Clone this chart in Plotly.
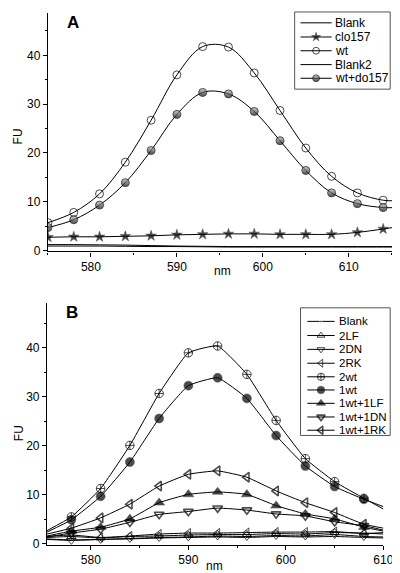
import plotly.graph_objects as go

W, H = 400, 573

# ---------------- Panel A data ----------------
a_nm = [575, 578, 581, 584, 587, 590, 593, 596, 599, 602, 605, 608, 611, 614, 615.5]
a_blank = [1.2, 1.2, 1.15, 1.1, 1.0, 0.9, 0.85, 0.8, 0.8, 0.8, 0.8, 0.8, 0.8, 0.8, 0.8]
a_clo157 = [2.7, 2.8, 2.8, 2.9, 3.0, 3.2, 3.3, 3.4, 3.4, 3.3, 3.3, 3.3, 3.7, 4.4, 4.8]
a_wt = [5.7, 7.8, 11.6, 18.1, 26.7, 36.0, 41.8, 41.7, 36.4, 28.7, 21.0, 15.2, 11.8, 10.3, 10.2]
a_blank2 = [0.9, 0.9, 0.9, 0.85, 0.8, 0.8, 0.75, 0.7, 0.7, 0.7, 0.7, 0.7, 0.7, 0.7, 0.7]
a_wt_clo = [4.7, 6.3, 9.3, 13.9, 20.5, 27.9, 32.4, 32.1, 28.5, 22.5, 16.4, 11.8, 9.6, 8.8, 8.8]
a_names = ["Blank", "clo157", "wt", "Blank2", "wt+do157"]

# ---------------- Panel B data ----------------
b_nm = [575.5, 578, 581, 584, 587, 590, 593, 596, 599, 602, 605, 608, 610]
b_blank = [1.0, 0.8, 0.9, 1.0, 1.2, 1.3, 1.4, 1.3, 1.5, 1.4, 1.5, 1.3, 1.2]
b_2lf = [1.3, 1.5, 1.2, 1.5, 1.6, 1.8, 1.9, 1.9, 2.1, 2.0, 2.3, 2.2, 2.0]
b_2dn = [0.9, 0.7, 0.9, 1.1, 1.3, 1.4, 1.6, 1.5, 1.7, 1.6, 1.9, 1.5, 1.4]
b_2rk = [1.5, 1.8, 1.3, 1.6, 2.0, 2.2, 2.2, 2.3, 2.4, 2.4, 2.5, 2.1, 2.3]
b_2wt = [2.7, 5.5, 11.3, 20.1, 30.7, 39.0, 40.4, 34.6, 25.2, 17.4, 12.7, 9.3, 7.1]
b_1wt = [2.4, 4.9, 9.7, 16.7, 25.6, 32.3, 33.9, 29.7, 22.1, 15.9, 11.7, 9.1, 7.6]
b_1wt_1lf = [1.6, 2.6, 3.4, 5.1, 8.4, 10.1, 10.6, 10.1, 7.8, 6.1, 5.1, 3.4, 2.6]
b_1wt_1dn = [1.4, 2.2, 3.0, 4.4, 6.0, 6.6, 7.3, 6.9, 6.1, 5.7, 4.5, 3.7, 2.8]
b_1wt_1rk = [2.0, 3.2, 5.3, 8.1, 11.8, 14.2, 14.9, 13.6, 10.8, 8.4, 6.4, 4.0, 3.2]
b_names = ["Blank", "2LF", "2DN", "2RK", "2wt", "1wt", "1wt+1LF", "1wt+1DN", "1wt+1RK"]

a_xticks = [580, 590, 600, 610]
a_yticks = [0, 10, 20, 30, 40]
b_xticks = [580, 590, 600, 610]
b_yticks = [0, 10, 20, 30, 40]

FONT = "Liberation Sans, Arial, sans-serif"


def px(x):
    return x / W


def py(y):
    return 1 - y / H


def sizes(n, s, ends=("last",)):
    out = [s] * n
    if "first" in ends:
        out[0] = 0
    if "last" in ends:
        out[-1] = 0
    return out


HALF = dict(symbol="circle", color="#bbbbbb", gradient=dict(type="vertical", color="black"),
            line=dict(color="black", width=1))

a_styles = [
    dict(marker=None),
    dict(marker=dict(symbol="star", color="black", line=dict(color="black", width=0.5)), size=8),
    dict(marker=dict(symbol="circle-open", color="black", line=dict(width=1)), size=8),
    dict(marker=None),
    dict(marker=HALF, size=8),
]
b_styles = [
    dict(marker=dict(symbol="circle", color="black"), size=2.5),
    dict(marker=dict(symbol="triangle-up-open", color="black", line=dict(width=1)), size=8),
    dict(marker=dict(symbol="triangle-down-open", color="black", line=dict(width=1)), size=8),
    dict(marker=dict(symbol="triangle-left-open", color="black", line=dict(width=1)), size=8),
    dict(marker=dict(symbol="circle-cross-open", color="black", line=dict(width=1)), size=8.5),
    dict(marker=dict(symbol="circle", color="black", line=dict(color="black", width=0.5)), size=9),
    dict(marker=dict(symbol="triangle-up", color="black", line=dict(color="black", width=0.5)), size=9.5),
    dict(marker=dict(symbol="triangle-down-open", color="black", line=dict(width=1.6)), size=8.5),
    dict(marker=dict(symbol="triangle-left-open", color="black", line=dict(width=1.6)), size=8.5),
]

fig = go.Figure()

a_series = [a_blank, a_clo157, a_wt, a_blank2, a_wt_clo]
for name, ys, st in zip(a_names, a_series, a_styles):
    if st["marker"] is None:
        fig.add_trace(go.Scatter(x=a_nm, y=ys, mode="lines", name=name,
                                 line=dict(color="black", width=1, shape="spline", smoothing=1),
                                 xaxis="x", yaxis="y", showlegend=False))
    else:
        m = dict(st["marker"])
        m["size"] = sizes(len(a_nm), st["size"], ends=("last",))
        fig.add_trace(go.Scatter(x=a_nm, y=ys, mode="lines+markers", name=name,
                                 line=dict(color="black", width=1, shape="spline", smoothing=1),
                                 marker=m, xaxis="x", yaxis="y", showlegend=False))

b_series = [b_blank, b_2lf, b_2dn, b_2rk, b_2wt, b_1wt, b_1wt_1lf, b_1wt_1dn, b_1wt_1rk]
for name, ys, st in zip(b_names, b_series, b_styles):
    m = dict(st["marker"])
    m["size"] = sizes(len(b_nm), st["size"], ends=("first", "last"))
    fig.add_trace(go.Scatter(x=b_nm, y=ys, mode="lines+markers", name=name,
                             line=dict(color="black", width=1, shape="spline", smoothing=0.4),
                             marker=m, xaxis="x2", yaxis="y2", showlegend=False))

# ---------------- manual legends (pixel overlay axis) ----------------
annotations = []
shapes = []


def draw_legend(names, styles, box, x0, x1, xt, ys, fs):
    shapes.append(dict(type="rect", xref="paper", yref="paper",
                       x0=px(box[0]), x1=px(box[1]), y0=py(box[3]), y1=py(box[2]),
                       line=dict(color="#555", width=1), fillcolor="rgba(0,0,0,0)", layer="above"))
    for name, st, yy in zip(names, styles, ys):
        xm = (x0 + x1) / 2
        if st["marker"] is None:
            fig.add_trace(go.Scatter(x=[x0, x1], y=[yy, yy], mode="lines",
                                     line=dict(color="black", width=1),
                                     xaxis="x3", yaxis="y3", showlegend=False, hoverinfo="skip"))
        else:
            m = dict(st["marker"])
            m["size"] = [0, st["size"] * 0.85, 0]
            fig.add_trace(go.Scatter(x=[x0, xm, x1], y=[yy, yy, yy], mode="lines+markers",
                                     line=dict(color="black", width=1), marker=m,
                                     xaxis="x3", yaxis="y3", showlegend=False, hoverinfo="skip"))
        annotations.append(dict(text=name, x=px(xt), y=py(yy), xref="paper", yref="paper",
                                xanchor="left", yanchor="middle", showarrow=False,
                                font=dict(size=fs, color="black", family=FONT)))


draw_legend(a_names, a_styles, (294, 392, 4, 82), 300, 332, 333, [15, 29.3, 43.2, 57.2, 71], 12)
draw_legend(b_names, b_styles, (300, 392, 303, 432), 307, 335, 337,
            [316.7, 331, 345, 359, 372.7, 386, 399.5, 413.3, 426.7], 11.5)

# axis titles and panel labels
for txt, x, y, ang, size, bold in [
    ("FU", 10, 130, -90, 12, False), ("nm", 220, 266, 0, 12, False),
    ("FU", 12, 430, -90, 12, False), ("nm", 212, 564, 0, 12, False),
    ("A", 67, 15, 0, 17, True), ("B", 66, 308, 0, 17, True),
]:
    annotations.append(dict(text=f"<b>{txt}</b>" if bold else txt, x=px(x), y=py(y),
                            xref="paper", yref="paper", xanchor="center", yanchor="middle",
                            showarrow=False, textangle=ang,
                            font=dict(size=size, color="black", family=FONT)))

axis_common = dict(showline=True, linecolor="black", linewidth=1.2, ticks="outside",
                   ticklen=4, tickwidth=1, tickcolor="black", showgrid=False, zeroline=False,
                   tickfont=dict(size=12, color="black", family=FONT), fixedrange=True)


def ax(domain, rng, anchor, ticks):
    return dict(domain=domain, range=rng, anchor=anchor, tickmode="linear",
                tick0=ticks[0], dtick=ticks[1] - ticks[0],
                minor=dict(dtick=(ticks[1] - ticks[0]) / 2, ticks="outside", ticklen=2,
                           tickcolor="black"),
                **axis_common)


fig.update_layout(
    width=W, height=H, autosize=False,
    margin=dict(l=0, r=0, t=0, b=0),
    paper_bgcolor="white", plot_bgcolor="rgba(0,0,0,0)",
    xaxis=ax([px(41), px(398)], [575, 615.5], "y", a_xticks),
    yaxis=ax([py(246), py(5)], [-0.2, 48.7], "x", a_yticks),
    xaxis2=ax([px(40), px(385)], [575.5, 610], "y2", b_xticks),
    yaxis2=ax([py(542.5), py(298)], [-0.2, 49.2], "x2", b_yticks),
    xaxis3=dict(domain=[0, 1], range=[0, W], visible=False, fixedrange=True, anchor="y3"),
    yaxis3=dict(domain=[0, 1], range=[H, 0], visible=False, fixedrange=True, anchor="x3"),
    annotations=annotations,
    shapes=shapes,
    showlegend=False,
)

fig.write_html("out.html")
